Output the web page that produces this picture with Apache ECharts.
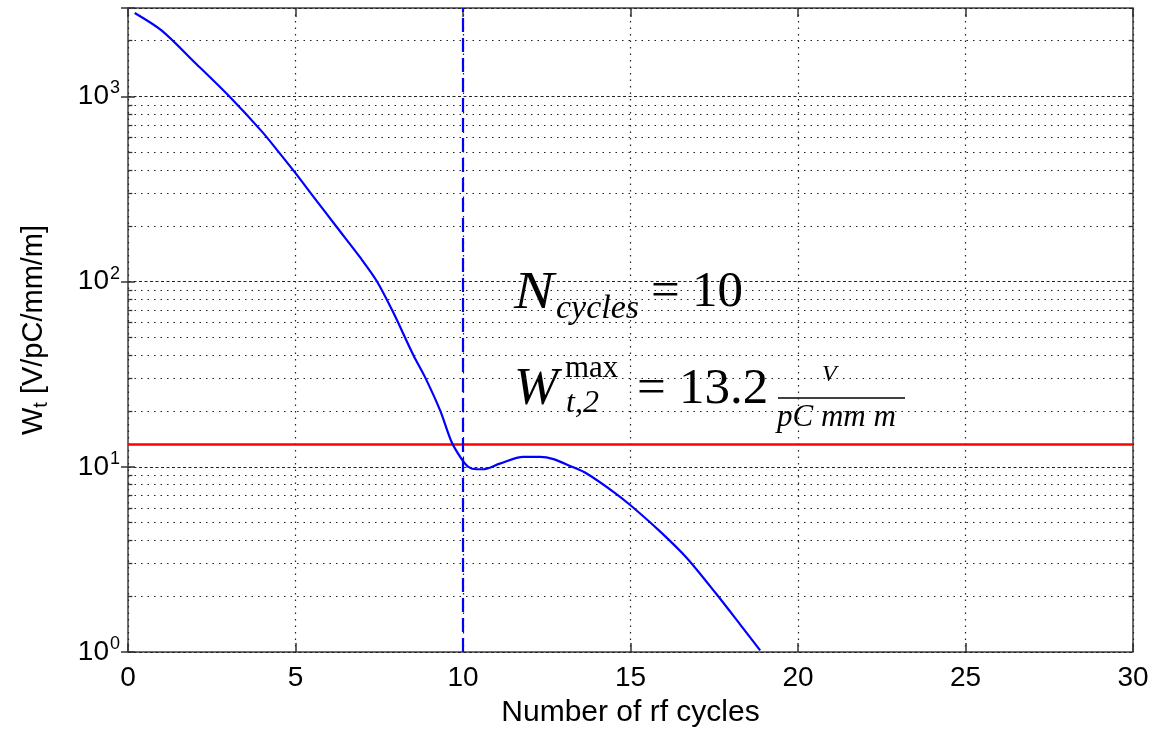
<!DOCTYPE html>
<html>
<head>
<meta charset="utf-8">
<title>Transverse wake vs rf cycles</title>
<script src="https://cdn.jsdelivr.net/npm/echarts@6/dist/echarts.min.js"></script>
<style>
  html, body { margin: 0; padding: 0; background: #fff; }
  #chart { width: 1157px; height: 733px; }
</style>
</head>
<body>
<div id="chart"></div>
<script>
// wake curve
const cycles = [0.2, 1.0, 2.0, 3.0, 4.0, 4.5, 5.0, 5.55, 6.23, 6.93, 7.42, 7.92, 8.52, 8.87, 9.32, 9.66,
  9.96, 10.16, 10.4, 10.6, 11.1, 11.8, 12.3, 12.7, 13.2, 13.69, 14.49, 15.0, 15.88, 16.68, 17.57, 18.27, 18.87];
const wake = [2820, 2270, 1520, 1010, 645, 500, 385, 285, 197, 135, 101, 68, 40, 30.4, 20.1, 13.6,
  11.0, 10.0, 9.7, 9.7, 10.4, 11.3, 11.3, 11.0, 10.1, 9.2, 7.33, 6.2, 4.48, 3.22, 2.05, 1.41, 1.02];

const nCycles = 10;      // blue dashed marker
const wMax = 13.2;       // red limit
const xTicks = [0, 5, 10, 15, 20, 25, 30];
const yDecades = [1, 10, 100, 1000];
const yMinor = [2, 3, 4, 5, 6, 7, 8, 9, 20, 30, 40, 50, 60, 70, 80, 90,
  200, 300, 400, 500, 600, 700, 800, 900, 2000];

var chart = echarts.init(document.getElementById('chart'));

const sans = 'Liberation Sans, Arial, sans-serif';
const serif = 'Liberation Serif, Times New Roman, serif';
const dotted = [1.5, 5];

function powLabel(v) {
  const e = Math.round(Math.log10(v));
  if (yDecades.indexOf(v) < 0 && Math.abs(Math.pow(10, e) - v) > 1e-6 * v) return '';
  return '{b|10}{s|' + e + '}';
}

// minor grid lines + little inward ticks on both y sides
const markData = [];
yMinor.forEach(function (v) {
  markData.push({ yAxis: v, lineStyle: { color: '#222', width: 1.2, type: dotted } });
  markData.push([{ coord: [0, v], lineStyle: { color: '#333', width: 1.3, type: 'solid' } }, { coord: [0.13, v] }]);
  markData.push([{ coord: [29.87, v], lineStyle: { color: '#333', width: 1.3, type: 'solid' } }, { coord: [30, v] }]);
});
markData.push({ yAxis: wMax, lineStyle: { color: '#ff0000', width: 2.5, type: 'solid' } });
markData.push({ xAxis: nCycles, lineStyle: { color: '#0000ff', width: 2.2, type: [14, 6] } });

const option = {
  animation: false,
  grid: {
    left: 128, top: 8, right: 24, bottom: 75,
    show: true, borderColor: '#404040', borderWidth: 1.5
  },
  xAxis: [
    {
      type: 'value', min: 0, max: 30, interval: 5,
      name: 'Number of rf cycles', nameLocation: 'middle', nameGap: 46,
      nameTextStyle: { fontFamily: sans, fontSize: 30, color: '#000' },
      axisLine: { show: false },
      axisTick: { inside: true, length: 9, lineStyle: { color: '#333', width: 1.5 } },
      axisLabel: { fontFamily: sans, fontSize: 28, color: '#000', margin: 12,
        formatter: function (v) { return xTicks.indexOf(v) >= 0 ? String(v) : ''; } },
      splitLine: { show: true, lineStyle: { color: '#222', width: 1.2, type: dotted } }
    },
    {
      type: 'value', min: 0, max: 30, interval: 5, position: 'top',
      axisLine: { show: false },
      axisTick: { inside: true, length: 9, lineStyle: { color: '#333', width: 1.5 } },
      axisLabel: { show: false }, splitLine: { show: false }
    }
  ],
  yAxis: [
    {
      type: 'log', logBase: 10, min: 1, max: 3000,
      name: '{a|W}{t|t}{a| [V/pC/mm/m]}', nameLocation: 'middle', nameGap: 77, nameRotate: 90,
      nameTextStyle: {
        color: '#000',
        rich: {
          a: { fontFamily: sans, fontSize: 29, color: '#000' },
          t: { fontFamily: sans, fontSize: 20, color: '#000', verticalAlign: 'bottom', padding: [14, 0, 0, 0] }
        }
      },
      axisLine: { show: false },
      axisTick: { inside: true, length: 7, lineStyle: { color: '#333', width: 1.5 } },
      axisLabel: {
        margin: 8, formatter: powLabel,
        rich: {
          b: { fontFamily: sans, fontSize: 28, color: '#000', lineHeight: 34 },
          s: { fontFamily: sans, fontSize: 18, color: '#000', verticalAlign: 'top', padding: [0, 0, 16, 1] }
        }
      },
      splitLine: { show: true, lineStyle: { color: '#222', width: 1.2, type: [3, 2.5] } }
    },
    {
      type: 'log', logBase: 10, min: 1, max: 3000, position: 'right',
      axisLine: { show: false },
      axisTick: { inside: true, length: 7, lineStyle: { color: '#333', width: 1.5 } },
      axisLabel: { show: false }, splitLine: { show: false }
    }
  ],
  series: [
    {
      type: 'line',
      data: cycles.map(function (c, i) { return [c, wake[i]]; }),
      smooth: 0.3,
      showSymbol: false,
      lineStyle: { color: '#0000ff', width: 2.2 },
      z: 5,
      markLine: {
        silent: true, symbol: 'none', animation: false,
        label: { show: false },
        emphasis: { disabled: true },
        data: markData
      }
    }
  ],
  graphic: [
    { type: 'text', left: 514, top: 268, scaleX: 1.15, style: { text: 'N', font: 'italic 52px ' + serif, fill: '#000' } },
    { type: 'text', left: 556, top: 292, style: { text: 'cycles', font: 'italic 34px ' + serif, fill: '#000' } },
    { type: 'text', left: 651, top: 267, style: { text: '=', font: '51px ' + serif, fill: '#000' } },
    { type: 'text', left: 692, top: 267, style: { text: '10', font: '51px ' + serif, fill: '#000' } },
    { type: 'text', left: 514, top: 364, style: { text: 'W', font: 'italic 53px ' + serif, fill: '#000' } },
    { type: 'text', left: 565, top: 353, style: { text: 'max', font: '31px ' + serif, fill: '#000' } },
    { type: 'text', left: 566, top: 388, style: { text: 't,2', font: 'italic 32px ' + serif, fill: '#000' } },
    { type: 'text', left: 637, top: 364, style: { text: '=', font: '51px ' + serif, fill: '#000' } },
    { type: 'text', left: 679, top: 364, style: { text: '13.2', font: '51px ' + serif, fill: '#000' } },
    { type: 'text', left: 822, top: 363, style: { text: 'V', font: 'italic 24px ' + serif, fill: '#000' } },
    { type: 'line', shape: { x1: 778, y1: 398, x2: 905, y2: 398 }, style: { stroke: '#000', lineWidth: 1.5 } },
    { type: 'text', left: 777, top: 402, style: { text: 'pC mm m', font: 'italic 31px ' + serif, fill: '#000' } }
  ]
};

chart.setOption(option);
window.onresize = function () {
  chart.resize();
};
</script>
</body>
</html>
